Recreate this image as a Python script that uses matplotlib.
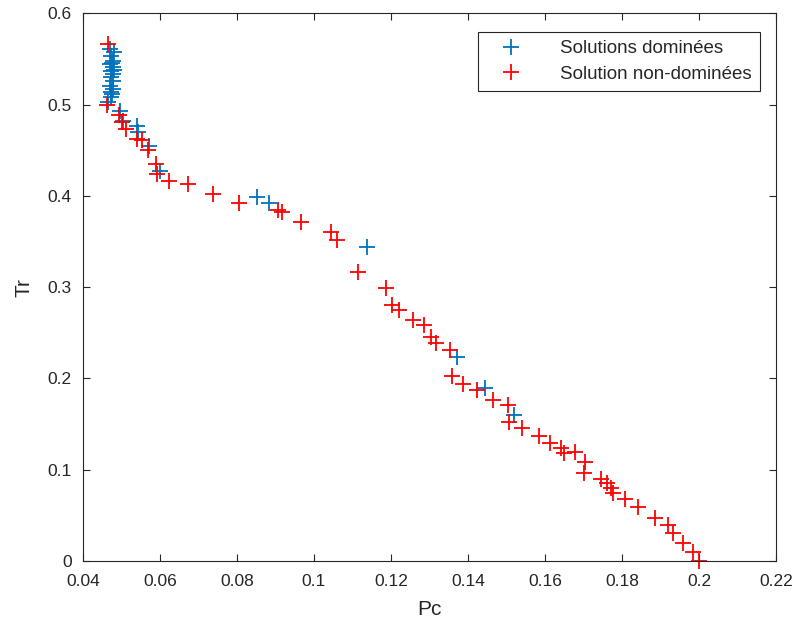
import numpy as np
import matplotlib
matplotlib.use("Agg")
import matplotlib.pyplot as plt

plt.rcParams['font.family'] = ['Liberation Sans', 'DejaVu Sans']

# solutions dominees (bleu)
dom_pc = [0.0470, 0.0480, 0.0474, 0.0478, 0.0476, 0.0470, 0.0478, 0.0481,
          0.0474, 0.0478, 0.0472, 0.0478, 0.0470, 0.0479, 0.0474, 0.0475,
          0.0472, 0.0466, 0.0496, 0.0505, 0.0539, 0.0544, 0.0572, 0.0600,
          0.0852, 0.0884, 0.1137, 0.1371, 0.1444, 0.1519]
dom_tr = [0.5610, 0.5570, 0.5536, 0.5480, 0.5450, 0.5445, 0.5410, 0.5380,
          0.5370, 0.5336, 0.5300, 0.5263, 0.5208, 0.5170, 0.5135, 0.5110,
          0.5080, 0.5025, 0.4934, 0.4825, 0.4770, 0.4697, 0.4551, 0.4275,
          0.3985, 0.3920, 0.3435, 0.2232, 0.1890, 0.1600]

# solutions non dominees (rouge)
nd_pc = [0.0466, 0.0462, 0.0494, 0.0501, 0.0513, 0.0539, 0.0552, 0.0570,
         0.0590, 0.0593, 0.0624, 0.0674, 0.0737, 0.0806, 0.0907, 0.0916,
         0.0965, 0.1043, 0.1061, 0.1115, 0.1186, 0.1202, 0.1220, 0.1256,
         0.1286, 0.1303, 0.1317, 0.1354, 0.1359, 0.1386, 0.1423, 0.1466,
         0.1503, 0.1506, 0.1539, 0.1585, 0.1614, 0.1641, 0.1649, 0.1677,
         0.1703, 0.1702, 0.1745, 0.1760, 0.1771, 0.1777, 0.1808, 0.1841,
         0.1886, 0.1920, 0.1933, 0.1958, 0.1985, 0.2000]
nd_tr = [0.5664, 0.4990, 0.4880, 0.4806, 0.4734, 0.4625, 0.4606, 0.4497,
         0.4344, 0.4234, 0.4160, 0.4132, 0.4023, 0.3920, 0.3848, 0.3822,
         0.3712, 0.3603, 0.3520, 0.3165, 0.2994, 0.2800, 0.2746, 0.2642,
         0.2582, 0.2454, 0.2389, 0.2309, 0.2030, 0.1944, 0.1871, 0.1769,
         0.1710, 0.1524, 0.1455, 0.1364, 0.1290, 0.1240, 0.1185, 0.1190,
         0.1090, 0.0959, 0.0894, 0.0850, 0.0795, 0.0740, 0.0675, 0.0594,
         0.0474, 0.0394, 0.0303, 0.0195, 0.0102, 0.0000]

xticks = np.arange(0.04, 0.2201, 0.02)
yticks = np.arange(0, 0.601, 0.1)

fig = plt.figure(figsize=(8.01, 6.3), dpi=100)
ax = fig.add_axes([0.1036, 0.1095, 0.8652, 0.8695])

ax.plot(dom_pc, dom_tr, '+', color='#0072BD', markersize=11, markeredgewidth=1.3,
        label='Solutions dominées', clip_on=False)
ax.plot(nd_pc, nd_tr, '+', color='red', markersize=11, markeredgewidth=1.3,
        label='Solution non-dominées', clip_on=False)

ax.set_xlim(0.04, 0.22)
ax.set_ylim(0, 0.6)
ax.set_xticks(xticks)
ax.set_xticklabels(['0.04', '0.06', '0.08', '0.1', '0.12', '0.14', '0.16', '0.18', '0.2', '0.22'])
ax.set_yticks(yticks)
ax.set_yticklabels(['0', '0.1', '0.2', '0.3', '0.4', '0.5', '0.6'])

gray = '#262626'
for s in ax.spines.values():
    s.set_color(gray)
    s.set_linewidth(0.8)
ax.tick_params(direction='in', top=True, right=True, length=5, width=0.8,
               colors=gray, labelsize=12.5)
ax.tick_params(axis='x', pad=9)
ax.tick_params(axis='y', pad=8)

ax.set_xlabel('Pc', fontsize=15, color=gray, labelpad=8)
ax.set_ylabel('Tr', fontsize=15, color=gray, labelpad=10)

leg = ax.legend(loc='upper right', bbox_to_anchor=(0.99, 0.983), fontsize=13.5,
                fancybox=False, framealpha=1, edgecolor=gray, borderpad=0.45,
                labelspacing=0.45, handlelength=2.6, handletextpad=1.3)
leg.get_frame().set_linewidth(0.8)
for t in leg.get_texts():
    t.set_color(gray)

fig.savefig('out.png', dpi=100)
